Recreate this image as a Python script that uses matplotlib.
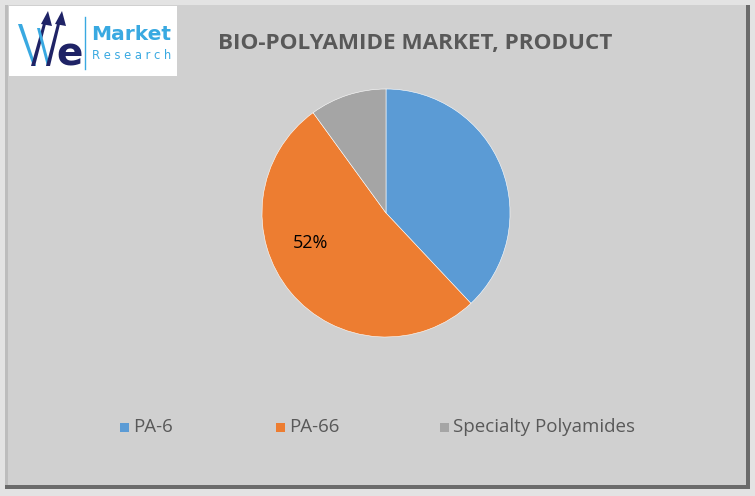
import matplotlib.pyplot as plt
from matplotlib.patches import Rectangle, Polygon

# ── Data ──────────────────────────────────────────────────────────────────────
products = ["PA-6", "PA-66", "Specialty Polyamides"]
shares = [38, 52, 10]
colors = ["#5B9BD5", "#ED7D31", "#A5A5A5"]
shown_label = "PA-66"

W, H = 755, 496
fig = plt.figure(figsize=(W / 100, H / 100), dpi=100)
fig.patch.set_facecolor("#e3e3e3")


def px(x0, y0, w, h):
    # pixel box (top-left origin) -> figure fraction rect
    return [x0 / W, 1 - (y0 + h) / H, w / W, h / H]


def box(x0, y0, w, h, color, z):
    fig.patches.append(Rectangle((x0 / W, 1 - (y0 + h) / H), w / W, h / H,
                                 transform=fig.transFigure, facecolor=color,
                                 edgecolor="none", zorder=z))


# ── Frame ─────────────────────────────────────────────────────────────────────
box(5, 5, 745, 484, "#6b6b6b", -3)
box(5, 5, 741, 480, "#d0d0d0", -2)
box(5, 5, 3, 480, "#bdbdbd", -1)
box(9, 6, 168, 70, "white", -1)

# ── Logo ──────────────────────────────────────────────────────────────────────
lg = fig.add_axes(px(9, 6, 168, 70))
lg.set_xlim(0, 168)
lg.set_ylim(70, 0)
lg.axis("off")
navy = "#1f2366"
lblue = "#39a9e1"
lg.add_patch(Polygon([(9, 18), (13, 18), (27, 60), (24, 60)], closed=True,
                     facecolor=lblue, edgecolor="none"))
lg.add_patch(Polygon([(22, 60), (26, 60), (38, 14), (35, 14)], closed=True,
                     facecolor=navy, edgecolor="none"))
lg.add_patch(Polygon([(28, 22), (31, 22), (41, 60), (38, 60)], closed=True,
                     facecolor=lblue, edgecolor="none"))
lg.add_patch(Polygon([(37, 60), (41, 60), (52, 14), (49, 14)], closed=True,
                     facecolor=navy, edgecolor="none"))
lg.add_patch(Polygon([(32, 18), (39, 5), (43, 20)], closed=True,
                     facecolor=navy, edgecolor="none"))
lg.add_patch(Polygon([(46, 18), (53, 5), (57, 20)], closed=True,
                     facecolor=navy, edgecolor="none"))
lg.text(47, 60, "e", color=navy, fontsize=28, fontweight="bold",
        family="DejaVu Sans", va="baseline")
lg.plot([76, 76], [11, 63], color=lblue, lw=1)
lg.text(82, 34, "Market", color=lblue, fontsize=14.5, fontweight="bold",
        va="baseline", family="DejaVu Sans")
lg.text(83, 53, "R e s e a r c h", color=lblue, fontsize=8.3, va="baseline",
        family="DejaVu Sans")

# ── Title ─────────────────────────────────────────────────────────────────────
fig.text(415 / W, 1 - 44 / H, "BIO-POLYAMIDE MARKET, PRODUCT",
         ha="center", va="center", fontsize=16.2, fontweight="bold",
         color="#595959", family="Open Sans")

# ── Pie ───────────────────────────────────────────────────────────────────────
ax = fig.add_axes(px(262, 89, 248, 248))
ax.pie(shares, colors=colors, startangle=90, counterclock=False, radius=1,
       wedgeprops=dict(edgecolor="white", linewidth=0.4))
ax.set_xlim(-1, 1)
ax.set_ylim(-1, 1)
ax.set_aspect("equal")
ax.axis("off")
i = products.index(shown_label)
ax.text(-0.605, -0.24, f"{shares[i]}%", ha="center", va="center",
        fontsize=13, color="black", family="Open Sans")

# ── Legend ────────────────────────────────────────────────────────────────────
for name, c, xs in zip(products, colors, [120, 276, 440]):
    box(xs, 423, 9, 9, c, 1)
    fig.text((xs + 13) / W, 1 - 427 / H, name, ha="left", va="center",
             fontsize=13.5, color="#595959", family="Open Sans")

fig.savefig("out.png", dpi=100, facecolor=fig.get_facecolor())
